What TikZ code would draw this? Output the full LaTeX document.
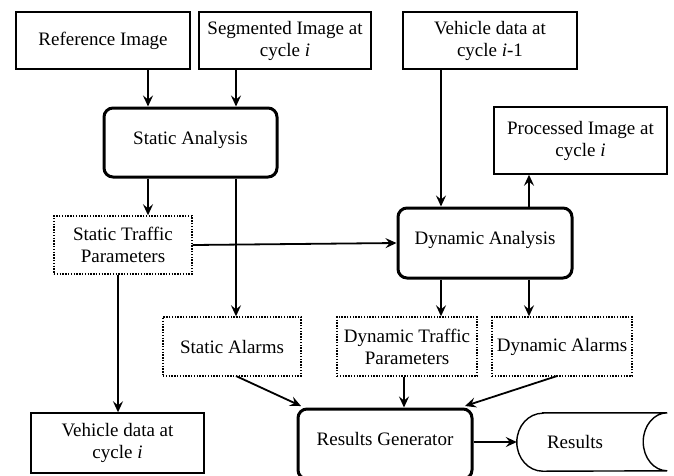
\documentclass[tikz,border=0pt]{standalone}
\usepackage{fontspec}
\setmainfont{Liberation Serif}
\usetikzlibrary{arrows.meta,calc}
\begin{document}
\begin{tikzpicture}[x=1pt,y=-1pt,
  every node/.style={font=\fontsize{19}{22}\selectfont, align=center, inner sep=0pt},
  thinbox/.style={draw, line width=1.4pt},
  dotbox/.style={draw, line width=1.4pt, dash pattern=on 1.4pt off 1.4pt},
  thickbox/.style={draw, line width=3pt, rounded corners=9pt},
  arr/.style={line width=1.8pt, -{Stealth[length=11pt,width=10pt,inset=4pt]}}]
\clip (0,0) rectangle (674,475);
% top row
\node[thinbox, minimum width=174pt, minimum height=57pt] (ref) at (103,40.5) {Reference Image};
\node[thinbox, minimum width=172pt, minimum height=57pt] (seg) at (285,40.5) {Segmented Image at\\cycle \textit{i}};
\node[thinbox, minimum width=174pt, minimum height=57pt] (veh1) at (490,40.5) {Vehicle data at\\cycle \textit{i}-1};
% analysis
\node[thickbox, minimum width=173pt, minimum height=69pt] (static) at (190.5,142.5) {\raisebox{10pt}{Static Analysis}};
\node[thinbox, minimum width=173pt, minimum height=67pt] (proc) at (580.5,140.5) {Processed Image at\\cycle \textit{i}};
\node[dotbox, minimum width=138pt, minimum height=58pt] (stp) at (123,245) {Static Traffic\\Parameters};
\node[thickbox, minimum width=174pt, minimum height=70pt] (dyn) at (485,243) {\raisebox{10pt}{Dynamic Analysis}};
% outputs
\node[dotbox, minimum width=138pt, minimum height=59pt] (sal) at (232,346.5) {Static Alarms};
\node[dotbox, minimum width=140pt, minimum height=59pt] (dtp) at (407,346.5) {Dynamic Traffic\\Parameters};
\node[dotbox, minimum width=140pt, minimum height=59pt] (dal) at (562,346.5) {Dynamic Alarms};
\node[thinbox, minimum width=173pt, minimum height=60pt] (vehi) at (117.5,443) {Vehicle data at\\cycle \textit{i}};
\node[thickbox, minimum width=174pt, minimum height=70pt] (resgen) at (385,444) {\raisebox{10pt}{Results Generator}};
\node[minimum width=150pt, minimum height=58pt] (res) at (592,442) {Results\hspace{34pt}};
\draw[line width=1.4pt] ([xshift=26pt]res.north west) -- (res.north east)
  arc[start angle=90, end angle=270, x radius=24pt, y radius=29pt]
  -- ([xshift=26pt]res.south west)
  arc[start angle=270, end angle=90, x radius=26pt, y radius=29pt] -- cycle;
% x guides
\coordinate (xa) at (148,0);
\coordinate (xb) at (236,0);
\coordinate (xc) at (441,0);
\coordinate (xd) at (529,0);
\coordinate (xe) at (118,0);
\coordinate (xf) at (404,0);
\coordinate (sa1) at (236,376);
\coordinate (sa2) at (301,406);
\coordinate (da1) at (557,376);
\coordinate (da2) at (465,406);
% connectors
\draw[arr] (ref.south -| xa) -- (static.north -| xa);
\draw[arr] (seg.south -| xb) -- (static.north -| xb);
\draw[arr] (static.south -| xa) -- (stp.north -| xa);
\draw[arr] (static.south -| xb) -- (sal.north -| xb);
\draw[arr] (stp.east) -- (dyn.west);
\draw[arr] (veh1.south -| xc) -- (dyn.north -| xc);
\draw[arr] (dyn.north -| xd) -- (proc.south -| xd);
\draw[arr] (dyn.south -| xc) -- (dtp.north -| xc);
\draw[arr] (dyn.south -| xd) -- (dal.north -| xd);
\draw[arr] (stp.south -| xe) -- (vehi.north -| xe);
\draw[arr] (sa1) -- (sa2);
\draw[arr] (dtp.south -| xf) -- (resgen.north -| xf);
\draw[arr] (da1) -- (da2);
\draw[arr] (resgen.east |- res.west) -- (res.west);
\end{tikzpicture}
\end{document}
